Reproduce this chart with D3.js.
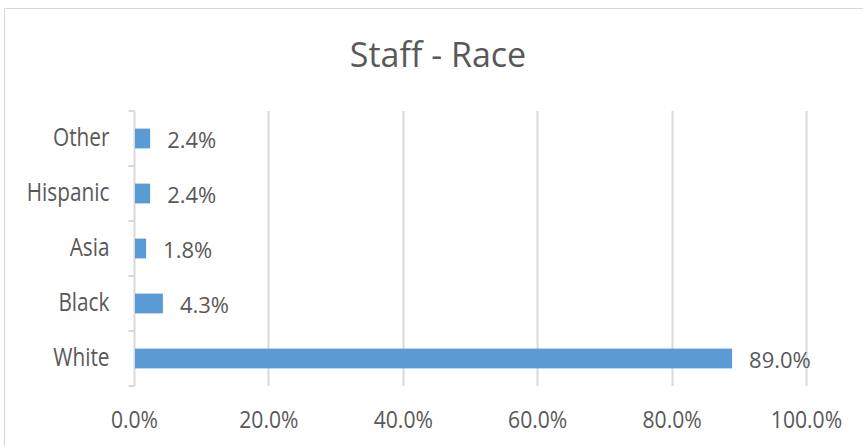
<!DOCTYPE html>
<html><head><meta charset="utf-8">
<script src="https://cdn.jsdelivr.net/npm/d3@7"></script>
<style>body{margin:0;background:#fff;} svg{display:block;}</style>
</head><body>
<svg id="c" width="863" height="446"></svg>
<script>
const categories = ["Other", "Hispanic", "Asia", "Black", "White"];
const values = [2.4, 2.4, 1.8, 4.3, 89.0];
const tickValues = [0, 20, 40, 60, 80, 100];
const title = "Staff - Race";

const svg = d3.select("#c");
const W = 863, H = 446;
const textColor = "#595959", gridColor = "#d9d9d9", barColor = "#5b9bd5";
svg.append("rect").attr("x", 4.5).attr("y", 8.5).attr("width", W + 10).attr("height", H + 10)
  .attr("fill", "#fff").attr("stroke", "#d9d9d9").attr("stroke-width", 1);

const plotTop = 111, plotBottom = 386;
const x = d3.scaleLinear().domain([0, 100]).range([134, 806]);
const y = d3.scaleBand().domain(categories).range([plotTop, plotBottom]).paddingInner(0.64).paddingOuter(0.32);

svg.append("text").attr("x", 438).attr("y", 67).attr("text-anchor", "middle")
  .attr("font-family", "Open Sans").attr("font-size", 34).attr("fill", textColor).text(title);

// gridlines
svg.append("g").selectAll("line").data(tickValues.slice(1)).join("line")
  .attr("x1", d => Math.round(x(d)) + 0.5).attr("x2", d => Math.round(x(d)) + 0.5)
  .attr("y1", plotTop).attr("y2", plotBottom).attr("stroke", gridColor).attr("stroke-width", 2);

// x axis labels
const xa = svg.append("g").attr("transform", `translate(0,${plotBottom})`)
  .call(d3.axisBottom(x).tickValues(tickValues).tickSize(0).tickFormat(d => d.toFixed(1) + "%"));
xa.select(".domain").remove();
xa.selectAll("text").attr("font-family", "Open Sans").attr("font-size", 24)
  .attr("fill", textColor).attr("y", 42).attr("dy", 0).attr("transform", "scale(0.88,1)");

// y axis
const ya = svg.append("g").attr("transform", "translate(134.5,0)")
  .call(d3.axisLeft(y).tickSize(0));
ya.select(".domain").attr("stroke", gridColor).attr("stroke-width", 2).attr("d", `M0,${plotTop}V${plotBottom}`);
ya.selectAll("text").attr("font-family", "Open Sans").attr("font-size", 26).attr("fill", textColor)
  .attr("x", 0).attr("dy", "0.29em").attr("transform", "translate(-25,0) scale(0.8,1)");
// category tick marks at band boundaries
const bounds = [plotTop].concat(categories.slice(1).map(c => y(c) - y.step() * y.paddingInner() / 2)).concat([plotBottom]);
ya.append("g").selectAll("line").data(bounds).join("line")
  .attr("x1", -6).attr("x2", 0).attr("y1", d => Math.round(d)).attr("y2", d => Math.round(d))
  .attr("stroke", gridColor).attr("stroke-width", 2);

// bars
svg.append("g").selectAll("rect").data(categories).join("rect")
  .attr("x", x(0) + 1).attr("y", d => y(d)).attr("height", y.bandwidth())
  .attr("width", (d, i) => x(values[i]) - x(0) - 1).attr("fill", barColor);

// value labels
svg.append("g").selectAll("text").data(categories).join("text")
  .attr("x", (d, i) => x(values[i]) + 17).attr("y", d => y(d) + y.bandwidth() / 2).attr("dy", "0.41em")
  .attr("font-family", "Open Sans").attr("font-size", 22).attr("fill", textColor)
  .text((d, i) => values[i].toFixed(1) + "%");
</script>
</body></html>
